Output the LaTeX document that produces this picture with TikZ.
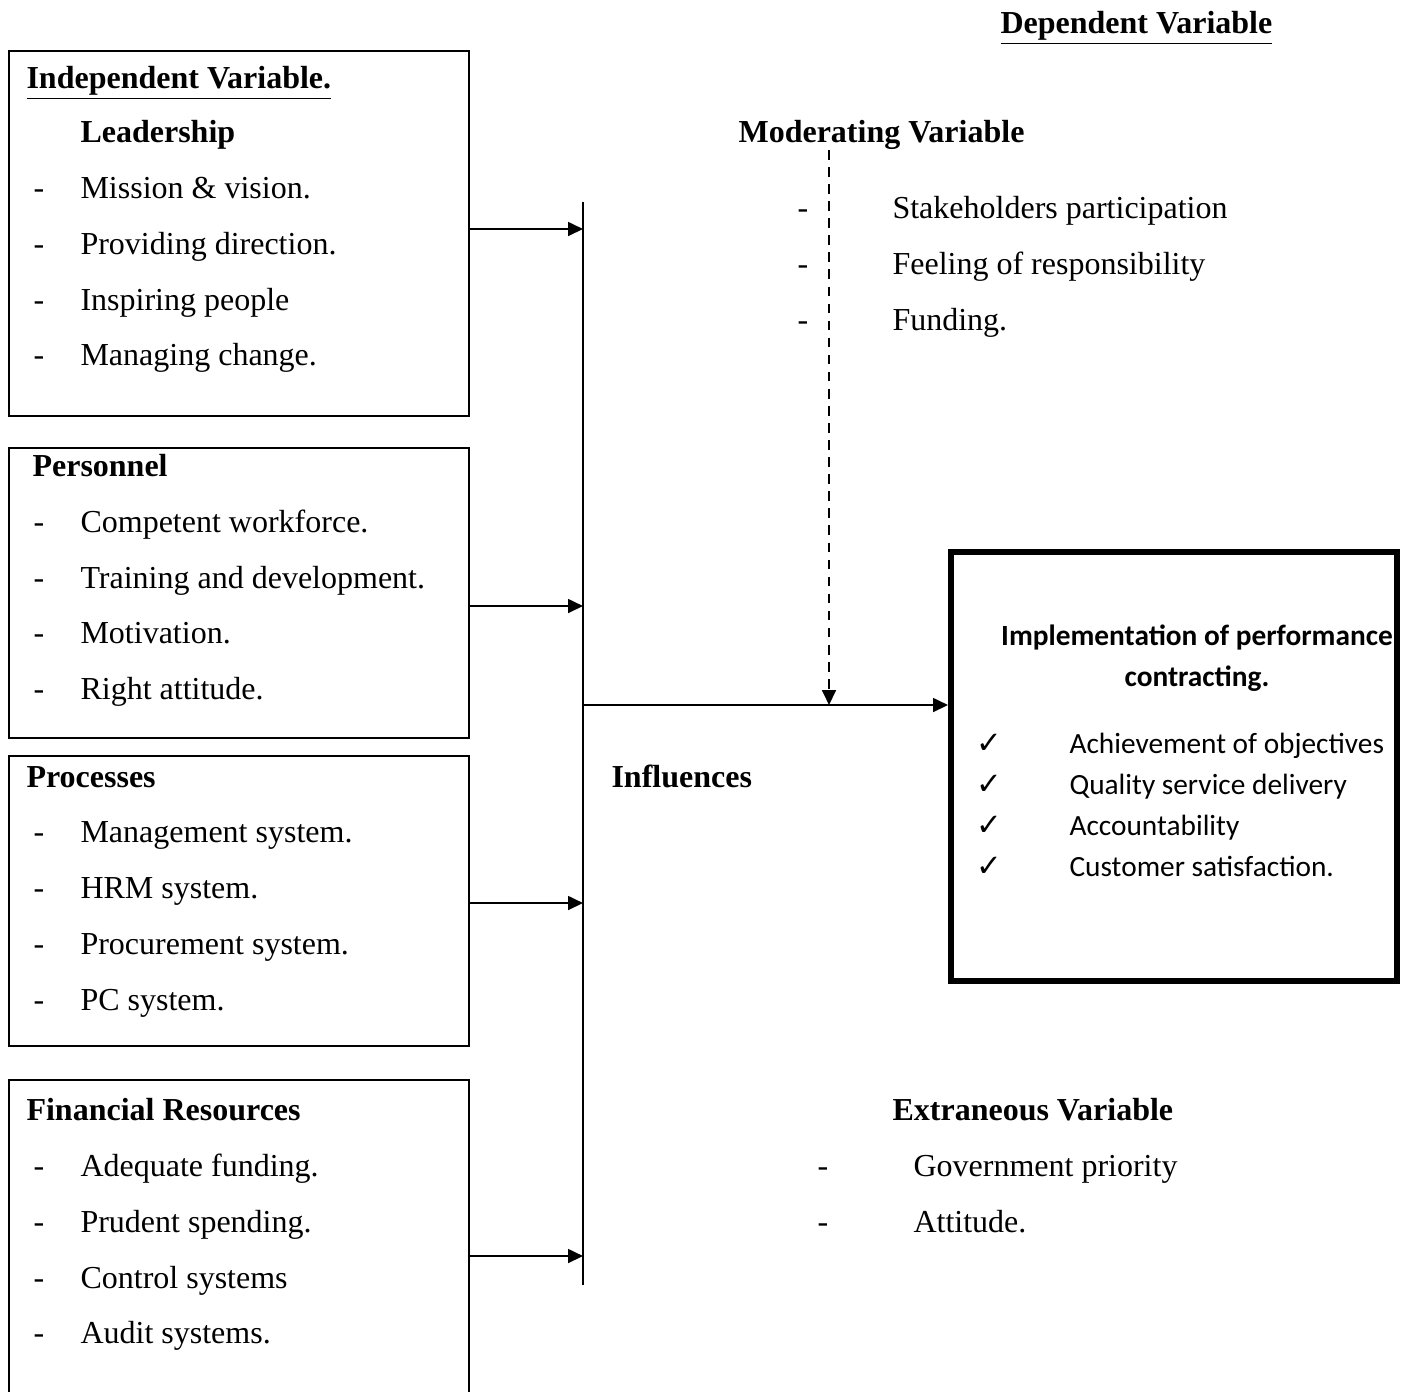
\documentclass[tikz,border=0pt]{standalone}
\usepackage{fontspec}
\setmainfont{Liberation Serif}
\newfontfamily\calibri{Carlito}
\newfontfamily\symfont{DejaVu Sans}
\usetikzlibrary{arrows.meta,positioning}

\begin{document}
\begin{tikzpicture}[
    x=0.375pt, y=-0.375pt,
    varbox/.style={rectangle, draw, line width=0.75pt, minimum width=172.5pt},
    depbox/.style={rectangle, draw, line width=2.25pt, minimum width=167.25pt, minimum height=160.9pt},
    txt/.style={inner sep=0pt, anchor=base west, font=\fontsize{12}{14}\selectfont},
    head/.style={txt, font=\fontsize{12}{14}\selectfont\bfseries},
    dep/.style={inner sep=0pt, anchor=base west, font=\calibri\fontsize{11}{13}\selectfont},
    depbold/.style={dep, anchor=base, font=\calibri\fontsize{11}{13}\selectfont\bfseries},
    tick/.style={dep, font=\symfont\fontsize{11.5}{13}\selectfont},
    arrow/.style={-{Triangle[length=5.6pt, width=5.2pt]}, line width=0.75pt},
    darrow/.style={-{Triangle[length=5.6pt, width=5.2pt]}, line width=0.75pt, dash pattern=on 3.6pt off 2.8pt}
]
    \path[use as bounding box, clip] (0,0) rectangle (1409,1391);

    % Boxes of the independent variables
    \node[varbox, minimum height=136.9pt] (lead) at (239, 233.5) {};
    \node[varbox, minimum height=108.75pt] (pers) at (239, 593) {};
    \node[varbox, minimum height=108.75pt] (proc) at (239, 901) {};
    \node[varbox, minimum height=120pt] (fin) at (239, 1240) {};

    % Dependent variable box
    \node[depbox] (depv) at (1174, 766.5) {};

    % Headings
    \node[head] (deph) at (1000, 33) {\underline{Dependent Variable}};
    \node[head] (indh) at (26, 88) {\underline{Independent Variable.}};
    \node[head] (leadh) at (80, 142) {Leadership};
    \node[head] (persh) at (32, 476) {Personnel};
    \node[head] (proch) at (26, 787) {Processes};
    \node[head] (finh) at (26, 1120) {Financial Resources};
    \node[head] (modh) at (738, 142) {Moderating Variable};
    \node[head] (infl) at (611, 787) {Influences};
    \node[head] (extr) at (892, 1120) {Extraneous Variable};

    % Leadership
    \node[txt] (l1d) at (33, 198) {-};  \node[txt] (l1) at (80, 198) {Mission \& vision.};
    \node[txt] (l2d) at (33, 254) {-};  \node[txt] (l2) at (80, 254) {Providing direction.};
    \node[txt] (l3d) at (33, 310) {-};  \node[txt] (l3) at (80, 310) {Inspiring people};
    \node[txt] (l4d) at (33, 365) {-};  \node[txt] (l4) at (80, 365) {Managing change.};

    % Personnel
    \node[txt] (p1d) at (33, 532) {-};  \node[txt] (p1) at (80, 532) {Competent workforce.};
    \node[txt] (p2d) at (33, 588) {-};  \node[txt] (p2) at (80, 588) {Training and development.};
    \node[txt] (p3d) at (33, 643) {-};  \node[txt] (p3) at (80, 643) {Motivation.};
    \node[txt] (p4d) at (33, 699) {-};  \node[txt] (p4) at (80, 699) {Right attitude.};

    % Processes
    \node[txt] (r1d) at (33, 842) {-};  \node[txt] (r1) at (80, 842) {Management system.};
    \node[txt] (r2d) at (33, 898) {-};  \node[txt] (r2) at (80, 898) {HRM system.};
    \node[txt] (r3d) at (33, 954) {-};  \node[txt] (r3) at (80, 954) {Procurement system.};
    \node[txt] (r4d) at (33, 1010) {-}; \node[txt] (r4) at (80, 1010) {PC system.};

    % Financial resources
    \node[txt] (f1d) at (33, 1176) {-}; \node[txt] (f1) at (80, 1176) {Adequate funding.};
    \node[txt] (f2d) at (33, 1232) {-}; \node[txt] (f2) at (80, 1232) {Prudent spending.};
    \node[txt] (f3d) at (33, 1288) {-}; \node[txt] (f3) at (80, 1288) {Control systems};
    \node[txt] (f4d) at (33, 1343) {-}; \node[txt] (f4) at (80, 1343) {Audit systems.};

    % Moderating variable
    \node[txt] (m1d) at (797, 218) {-}; \node[txt] (m1) at (892, 218) {Stakeholders participation};
    \node[txt] (m2d) at (797, 274) {-}; \node[txt] (m2) at (892, 274) {Feeling of responsibility};
    \node[txt] (m3d) at (797, 330) {-}; \node[txt] (m3) at (892, 330) {Funding.};

    % Extraneous variable
    \node[txt] (e1d) at (817, 1176) {-}; \node[txt] (e1) at (913, 1176) {Government priority};
    \node[txt] (e2d) at (817, 1232) {-}; \node[txt] (e2) at (913, 1232) {Attitude.};

    % Dependent variable text
    \node[depbold] (deph1) at (1197, 645) {Implementation of performance};
    \node[depbold] (deph2) at (1197, 686) {contracting.};
    \node[tick] (c1) at (976, 753) {✓}; \node[dep] (d1) at (1069, 753) {Achievement of objectives};
    \node[tick] (c2) at (976, 794) {✓}; \node[dep] (d2) at (1069, 794) {Quality service delivery};
    \node[tick] (c3) at (976, 835) {✓}; \node[dep] (d3) at (1069, 835) {Accountability};
    \node[tick] (c4) at (976, 876) {✓}; \node[dep] (d4) at (1069, 876) {Customer satisfaction.};

    % Bus line and joints
    \coordinate (bustop) at (583, 202);
    \coordinate (busbot) at (583, 1285);
    \coordinate (a1) at (583, 229);
    \coordinate (a2) at (583, 606);
    \coordinate (a3) at (583, 903);
    \coordinate (a4) at (583, 1256);
    \coordinate (bus) at (583, 705);
    \coordinate (join) at (829, 705);
    \coordinate (modtop) at (829, 150);

    % Arrows
    \draw[line width=0.75pt] (bustop) -- (busbot);
    \draw[arrow] (lead.east |- a1) -- (a1);
    \draw[arrow] (pers.east |- a2) -- (a2);
    \draw[arrow] (proc.east |- a3) -- (a3);
    \draw[arrow] (fin.east |- a4) -- (a4);
    \draw[arrow] (bus) -- (depv.west |- bus);
    \draw[darrow] (modtop) -- (join);
\end{tikzpicture}
\end{document}
